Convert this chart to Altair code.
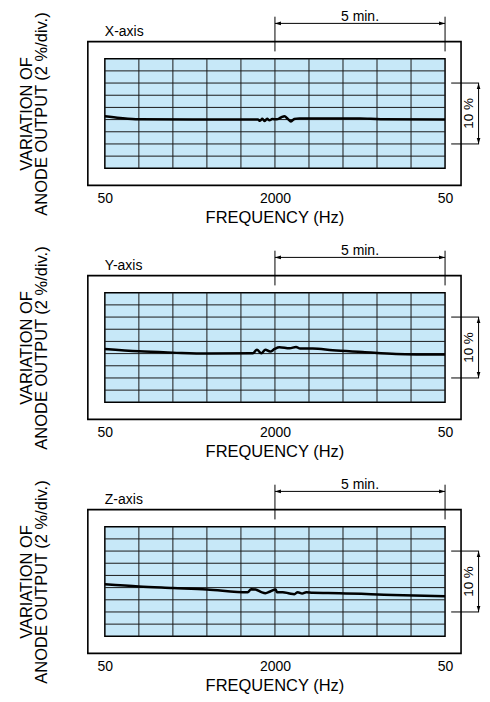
import altair as alt
import pandas as pd

FONT = "Liberation Sans"

# ---- data (x in grid columns: 0 = 50 Hz, 5 = 2000 Hz, 10 = 50 Hz; y in % variation) ----
tick_values = [0, 5, 10]
tick_labels = ["50", "2000", "50"]
panel_names = ["X-axis", "Y-axis", "Z-axis"]

x_pos = [0, 0.45, 1.0, 2.6, 4.5, 4.56, 4.63, 4.7, 4.77, 4.84, 4.92, 5.05, 5.18, 5.28,
         5.38, 5.47, 5.57, 5.72, 7.5, 8.1, 10]
x_val = [0.55, 0.27, 0.05, 0.0, 0.0, -0.2, 0.12, -0.22, 0.14, -0.12, 0.08, 0.05, 0.35, 0.55,
         0.1, -0.3, 0.1, 0.2, 0.2, 0.05, 0.0]

y_pos = [0, 1, 2, 3, 4.35, 4.47, 4.6, 4.72, 4.86, 4.99, 5.13, 5.43, 5.62, 5.74, 6.11,
         6.7, 7.58, 8.56, 10]
y_val = [0.77, 0.38, 0.16, 0.0, 0.05, 0.65, 0.05, 0.65, 0.33, 0.76, 1.04, 0.87, 1.09, 0.82,
         0.82, 0.55, 0.27, -0.05, -0.16]

z_pos = [0, 1, 2, 3, 4.2, 4.3, 4.43, 4.6, 4.72, 4.86, 5.02, 5.06, 5.23, 5.43, 5.57, 5.67,
         5.8, 5.92, 6.11, 6.9, 8.47, 10]
z_val = [0.56, 0.2, -0.05, -0.3, -0.75, -0.26, -0.31, -0.75, -0.92, -0.64, -0.31, -0.75,
         -0.75, -0.97, -1.08, -0.75, -0.97, -0.75, -0.86, -0.92, -1.2, -1.41]

curves = [(x_pos, x_val), (y_pos, y_val), (z_pos, z_val)]

n_cols = 10
row_values = [-8, -6, -4, -2, 0, 2, 4, 6, 8, 10]
bracket_span = [6, -4]        # "10 %" bracket (5 divisions of 2 %)
time_span = [5, 10]           # "5 min." bracket

XDOM = [-0.5, 10.47]
YDOM = [-10.8, 12.8]

label_expr = " : ".join(
    f"datum.value == {v} ? '{t}'" for v, t in zip(tick_values, tick_labels)
) + " : ''"


def X(field="x"):
    return alt.X(f"{field}:Q", scale=alt.Scale(domain=XDOM, nice=False, zero=False))


def Y(field="y"):
    return alt.Y(f"{field}:Q", scale=alt.Scale(domain=YDOM, nice=False, zero=False))


def panel(name, xs, ys):
    bg = alt.Chart(pd.DataFrame({"x": [0], "x2": [n_cols], "y": [-8], "y2": [10]})).mark_rect(
        fill="#c7e8f8", stroke="black", strokeWidth=1.5
    ).encode(
        x=alt.X("x:Q", scale=alt.Scale(domain=XDOM, nice=False, zero=False),
                axis=alt.Axis(values=tick_values, labelExpr=label_expr, title="FREQUENCY (Hz)",
                              domain=False, ticks=False, tickSize=0, grid=False,
                              labelFont=FONT, labelFontSize=14, labelColor="black",
                              labelPadding=6, labelFlush=False,
                              titleFont=FONT, titleFontSize=16.5, titleFontWeight="normal",
                              titleColor="black", titlePadding=4)),
        x2="x2:Q",
        y=alt.Y("y:Q", scale=alt.Scale(domain=YDOM, nice=False, zero=False),
                axis=alt.Axis(title=["VARIATION OF", "ANODE OUTPUT (2 %/div.)"],
                              labels=False, domain=False, ticks=False, tickSize=0, grid=False,
                              titleFont=FONT, titleFontSize=16.5, titleFontWeight="normal",
                              titleColor="black", titleLineHeight=15, titlePadding=38)),
        y2="y2:Q",
    )
    vlines = alt.Chart(pd.DataFrame({"x": list(range(1, n_cols)), "y": -8, "y2": 10})).mark_rule(
        color="#1a1a1a", strokeWidth=1
    ).encode(x=X(), y=Y(), y2="y2:Q")
    hlines = alt.Chart(pd.DataFrame({"y": row_values[1:-1], "x": 0, "x2": n_cols})).mark_rule(
        color="#1a1a1a", strokeWidth=1
    ).encode(y=Y(), x=X(), x2="x2:Q")
    curve = alt.Chart(pd.DataFrame({"x": xs, "y": ys})).mark_line(
        color="black", strokeWidth=2.5, interpolate="monotone"
    ).encode(x=X(), y=Y())

    # 5 min. bracket
    tv = alt.Chart(pd.DataFrame({"x": time_span, "y": 11.2, "y2": 16.9})).mark_rule(
        color="black", strokeWidth=1
    ).encode(x=X(), y=Y(), y2="y2:Q")
    th = alt.Chart(pd.DataFrame({"x": [time_span[0]], "x2": [time_span[1]], "y": [15.8]})).mark_rule(
        color="black", strokeWidth=1
    ).encode(x=X(), x2="x2:Q", y=Y())
    ttxt = alt.Chart(pd.DataFrame({"x": [7.5], "y": [16.25], "t": ["5 min."]})).mark_text(
        font=FONT, fontSize=14, color="black", baseline="alphabetic", align="center"
    ).encode(x=X(), y=Y(), text="t:N")

    # 10 % bracket
    bh = alt.Chart(pd.DataFrame({"y": bracket_span, "x": 10.18, "x2": 11.0})).mark_rule(
        color="black", strokeWidth=1
    ).encode(y=Y(), x=X(), x2="x2:Q")
    bv = alt.Chart(pd.DataFrame({"x": [10.985], "y": [bracket_span[0]], "y2": [bracket_span[1]]})).mark_rule(
        color="black", strokeWidth=1
    ).encode(x=X(), y=Y(), y2="y2:Q")
    btxt = alt.Chart(pd.DataFrame({"x": [10.71], "y": [1], "t": ["10 %"]})).mark_text(
        font=FONT, fontSize=13.5, color="black", baseline="middle", align="center", angle=270
    ).encode(x=X(), y=Y(), text="t:N")

    arrows = alt.Chart(pd.DataFrame({
        "x": [time_span[0], time_span[1], 10.985, 10.985],
        "y": [15.8, 15.8, bracket_span[0], bracket_span[1]],
        "d": ["left", "right", "up", "down"],
    })).mark_point(filled=True, color="black", opacity=1, size=36, strokeWidth=0).encode(
        x=X(), y=Y(),
        shape=alt.Shape("d:N", legend=None, scale=alt.Scale(
            domain=["left", "right", "up", "down"],
            range=["M0,0L2,-0.6L2,0.6Z", "M0,0L-2,-0.6L-2,0.6Z",
                   "M0,0L-0.6,2L0.6,2Z", "M0,0L-0.6,-2L0.6,-2Z"])),
    )

    name_txt = alt.Chart(pd.DataFrame({"x": [0], "y": [13.8], "t": [name]})).mark_text(
        font=FONT, fontSize=14, color="black", baseline="alphabetic", align="left"
    ).encode(x=X(), y=Y(), text="t:N")

    return alt.layer(bg, vlines, hlines, curve, tv, th, ttxt, bh, bv, btxt, arrows, name_txt).properties(
        width=374, height=144
    )


panels = [panel(n, c[0], c[1]) for n, c in zip(panel_names, curves)]

chart = alt.vconcat(*panels, spacing=90.5, bounds="flush").properties(
    padding={"left": 10, "top": 0, "right": 0, "bottom": 0}
).configure_view(stroke="black", strokeWidth=1.6)

chart.save("out.html", embed_options={"renderer": "svg", "actions": False})
